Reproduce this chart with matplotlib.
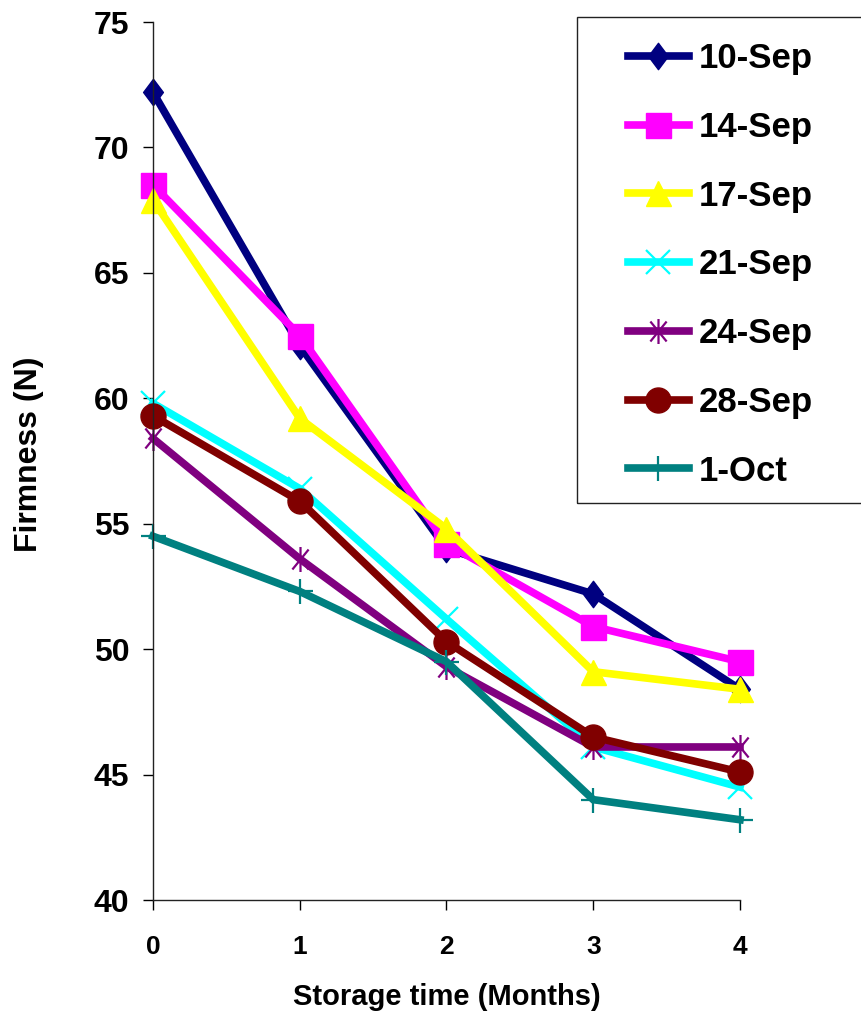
import matplotlib
matplotlib.use('Agg')
import matplotlib.pyplot as plt
from matplotlib.path import Path
from matplotlib.patches import Rectangle

plt.rcParams['font.family'] = ['Liberation Sans', 'DejaVu Sans']
plt.rcParams['font.weight'] = 'bold'

# storage time (months) and firmness (N) for each harvest date
months = [0, 1, 2, 3, 4]
harvest = ['10-Sep', '14-Sep', '17-Sep', '21-Sep', '24-Sep', '28-Sep', '1-Oct']
sep10 = [72.2, 62.1, 54.0, 52.2, 48.4]
sep14 = [68.5, 62.5, 54.2, 50.9, 49.5]
sep17 = [67.9, 59.2, 54.8, 49.1, 48.4]
sep21 = [59.8, 56.4, 51.2, 46.1, 44.5]
sep24 = [58.4, 53.6, 49.3, 46.1, 46.1]
sep28 = [59.3, 55.9, 50.3, 46.5, 45.1]
oct1 = [54.5, 52.3, 49.5, 44.0, 43.2]
yticks = [40, 45, 50, 55, 60, 65, 70, 75]

# Excel-style asterisk: an X with a vertical bar
star = Path([(0, -1), (0, 1), (-0.65, -0.8), (0.65, 0.8), (-0.65, 0.8), (0.65, -0.8)],
            [Path.MOVETO, Path.LINETO] * 3)
# slightly tall diamond
diamond = Path([(0, 1), (0.75, 0), (0, -1), (-0.75, 0), (0, 1)],
               [Path.MOVETO, Path.LINETO, Path.LINETO, Path.LINETO, Path.CLOSEPOLY])

series = [sep10, sep14, sep17, sep21, sep24, sep28, oct1]
colors = ['#000080', '#FF00FF', '#FFFF00', '#00FFFF', '#800080', '#800000', '#008080']
markers = [diamond, 's', '^', 'x', star, 'o', '+']
msizes = [19, 18, 18, 17, 18, 18, 18]

fig = plt.figure(figsize=(8.62, 10.13), dpi=100)
ax = fig.add_axes([153/862, 1 - 900/1013, 587/862, 878/1013])

handles = []
for vals, c, m, ms in zip(series, colors, markers, msizes):
    line_only = m is star or (isinstance(m, str) and m in ('x', '+'))
    h, = ax.plot(months, vals, color=c, lw=5.5, marker=m, markersize=ms,
                 markerfacecolor='none' if line_only else c,
                 markeredgecolor=c, markeredgewidth=1.6 if line_only else 1,
                 clip_on=False, solid_joinstyle='miter')
    handles.append(h)

ax.set_xlim(0, 4)
ax.set_ylim(40, 75)
ax.set_xticks(months)
ax.set_yticks(yticks)
for s in ('top', 'right'):
    ax.spines[s].set_visible(False)
for s in ('left', 'bottom'):
    ax.spines[s].set_linewidth(1.0)
    ax.spines[s].set_color('#222222')
ax.tick_params(axis='y', direction='out', length=7, width=1, pad=10, labelsize=23)
ax.tick_params(axis='x', direction='out', length=7, width=1, pad=18, labelsize=19)

ax.set_xlabel('Storage time (Months)', fontsize=21, fontweight='bold')
ax.set_ylabel('Firmness (N)', fontsize=23, fontweight='bold')
ax.xaxis.set_label_coords(0.5, -0.094)
ax.yaxis.set_label_coords(-0.186, 0.508)

# legend box drawn separately so the padding can be set on each side
fig.legend(handles, harvest, loc='upper left', frameon=False,
           bbox_to_anchor=(628/862, 1 - 42/1013), borderaxespad=0, borderpad=0,
           handlelength=1.75, handletextpad=0.3, labelspacing=1.03,
           numpoints=1, prop={'weight': 'bold', 'size': 25})
fig.add_artist(Rectangle((577/862, 1 - 503/1013), 290/862, 486/1013,
                         transform=fig.transFigure, fill=False, edgecolor='#222222', lw=1))

fig.savefig('out.png', dpi=100)
